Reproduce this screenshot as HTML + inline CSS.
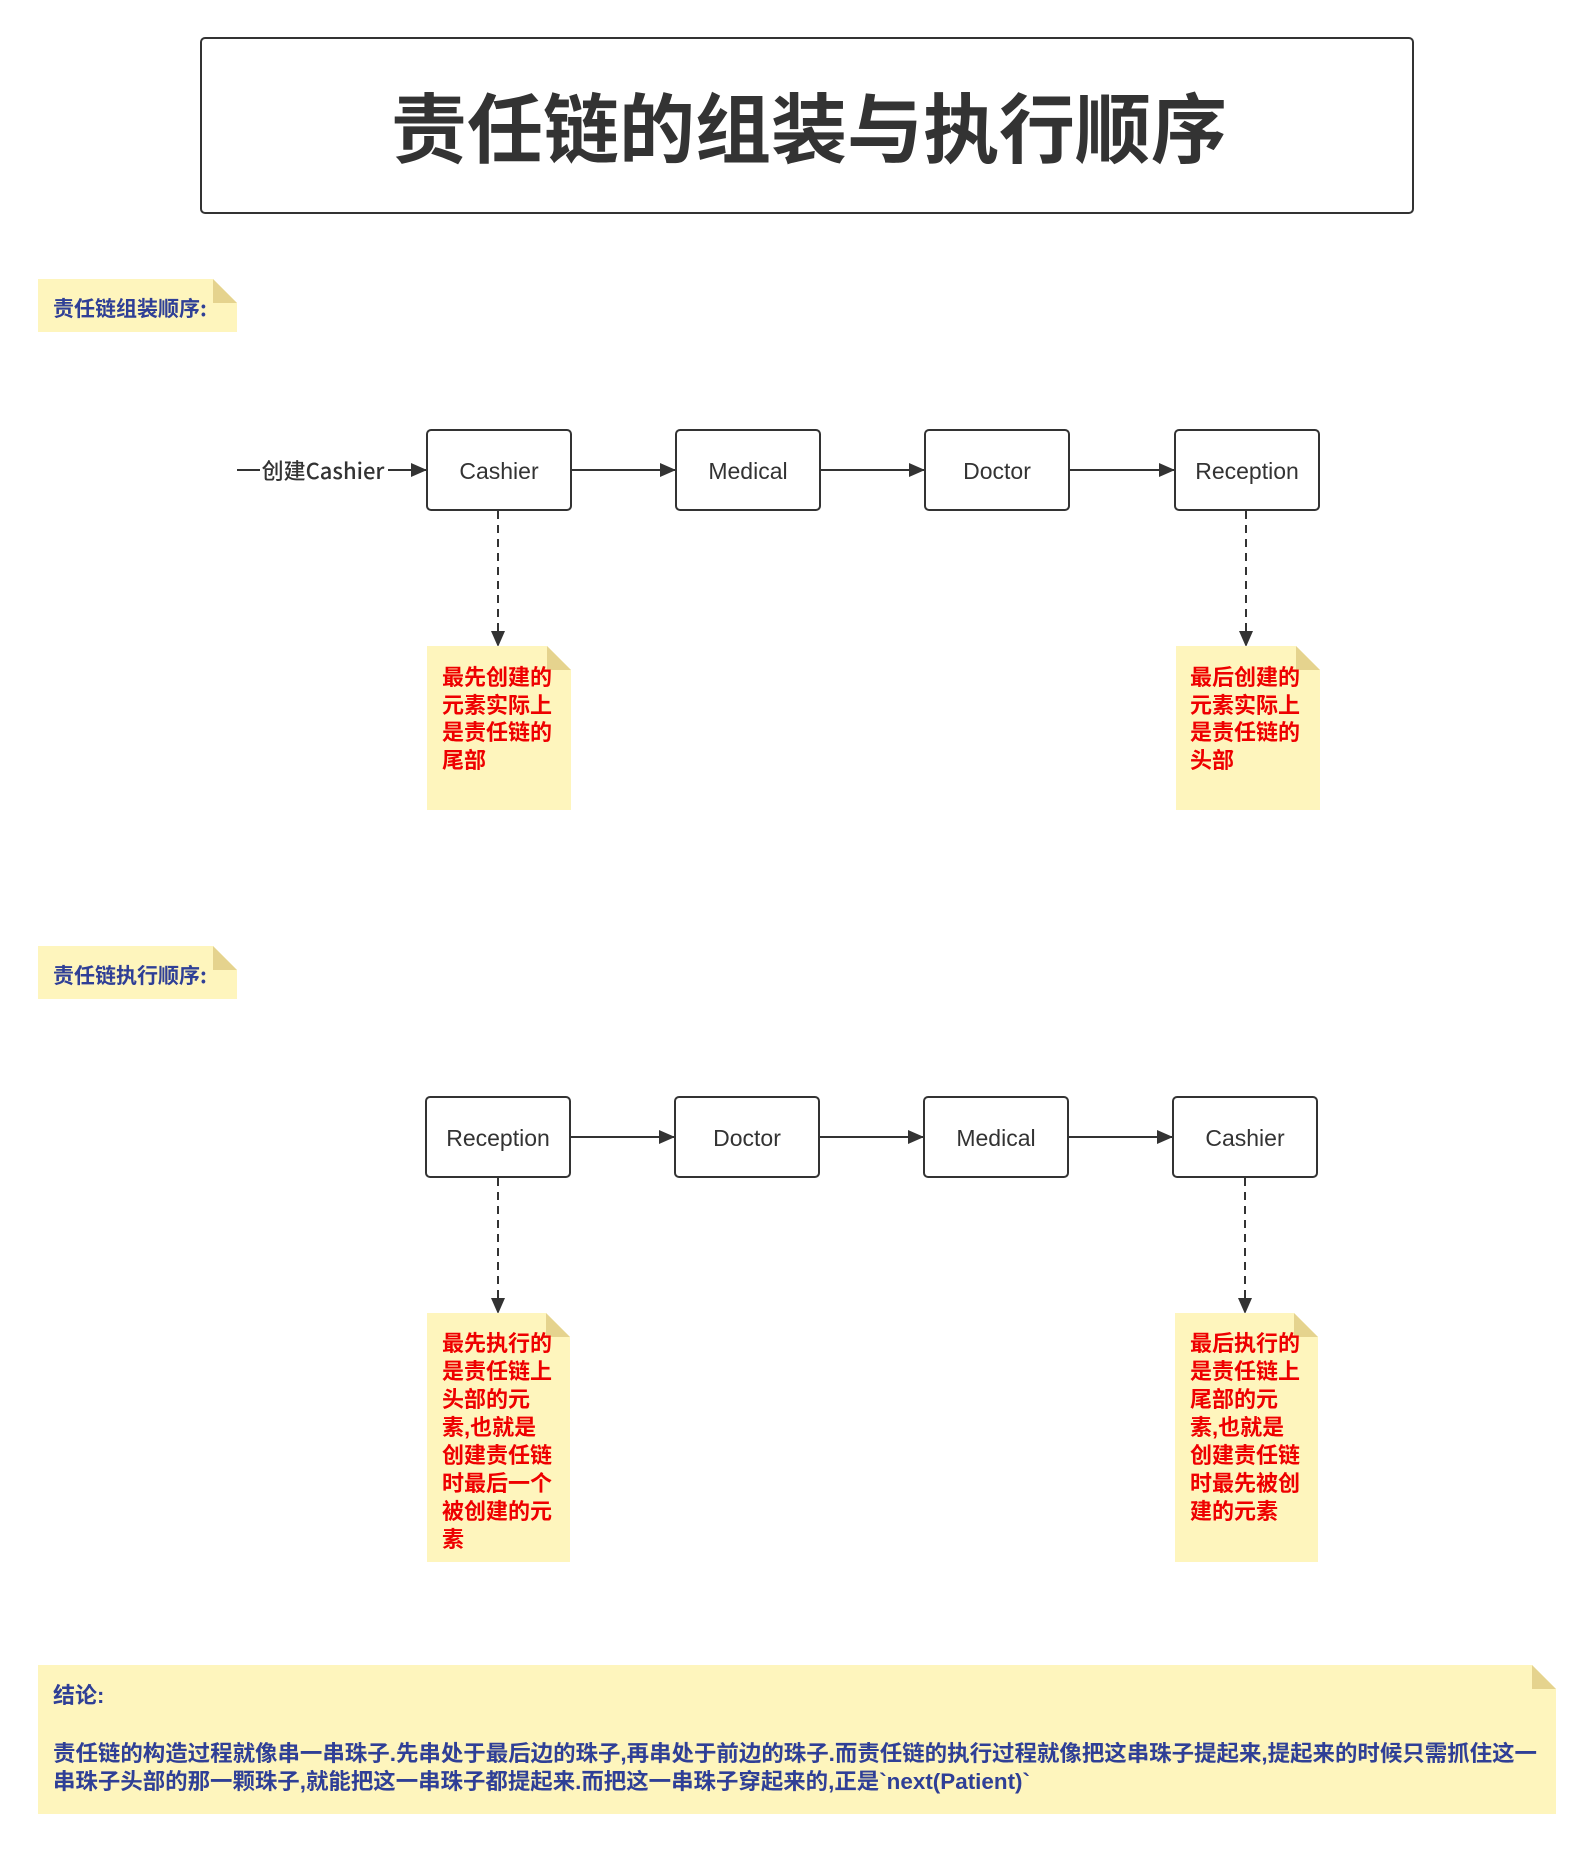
<!DOCTYPE html>
<html><head><meta charset="utf-8"><style>
html,body{margin:0;padding:0;background:#fff;}
svg{display:block;}
text{font-family:"Liberation Sans","Noto Sans CJK SC",sans-serif;}
.cj{font-family:"Noto Sans CJK SC",sans-serif;}
</style></head><body>
<svg width="1594" height="1852" viewBox="0 0 1594 1852" xmlns="http://www.w3.org/2000/svg">
<defs>
<marker id="ar" markerWidth="16" markerHeight="14" refX="15" refY="7" orient="auto" markerUnits="userSpaceOnUse">
<path d="M0,0 L16,7 L0,14 Z" fill="#333"/>
</marker>
</defs>
<rect width="1594" height="1852" fill="#fff"/>
<rect x="201" y="38" width="1212" height="175" rx="4" fill="#fff" stroke="#333" stroke-width="2"/>
<text class="cj" x="809" y="157" text-anchor="middle" font-size="76" font-weight="bold" fill="#333">责任链的组装与执行顺序</text>

<g>
<path d="M38,279 H213 L237,303 V332 H38 Z" fill="#fef5bd"/>
<path d="M213,279 L237,303 H213 Z" fill="#e5d38e"/>
<text class="cj" x="53" y="316" font-size="21" font-weight="bold" fill="#2f3f96">责任链组装顺序:</text>
</g>
<g>
<path d="M38,946 H213 L237,970 V999 H38 Z" fill="#fef5bd"/>
<path d="M213,946 L237,970 H213 Z" fill="#e5d38e"/>
<text class="cj" x="53" y="983" font-size="21" font-weight="bold" fill="#2f3f96">责任链执行顺序:</text>
</g>

<g stroke="#333" stroke-width="2" fill="none">
<line x1="237" y1="470" x2="426" y2="470" marker-end="url(#ar)"/>
<line x1="571" y1="470" x2="675" y2="470" marker-end="url(#ar)"/>
<line x1="820" y1="470" x2="924" y2="470" marker-end="url(#ar)"/>
<line x1="1069" y1="470" x2="1174" y2="470" marker-end="url(#ar)"/>
<line x1="498" y1="511" x2="498" y2="646" stroke-dasharray="8,6" marker-end="url(#ar)"/>
<line x1="1246" y1="511" x2="1246" y2="646" stroke-dasharray="8,6" marker-end="url(#ar)"/>
</g>
<rect x="260" y="456" width="128" height="28" fill="#fff"/>
<text class="cj" x="323" y="479" text-anchor="middle" font-size="22" font-weight="500" fill="#333">创建Cashier</text>
<g fill="#fff" stroke="#333" stroke-width="2">
<rect x="427" y="430" width="144" height="80" rx="4"/>
<rect x="676" y="430" width="144" height="80" rx="4"/>
<rect x="925" y="430" width="144" height="80" rx="4"/>
<rect x="1175" y="430" width="144" height="80" rx="4"/>
</g>
<g class="cj" font-size="23" font-weight="500" fill="#333" text-anchor="middle">
<text x="499" y="479">Cashier</text>
<text x="748" y="479">Medical</text>
<text x="997" y="479">Doctor</text>
<text x="1247" y="479">Reception</text>
</g>

<path d="M427,646 H547 L571,670 V810 H427 Z" fill="#fef5bd"/>
<path d="M547,646 L571,670 H547 Z" fill="#e5d38e"/>
<path d="M1176,646 H1296 L1320,670 V810 H1176 Z" fill="#fef5bd"/>
<path d="M1296,646 L1320,670 H1296 Z" fill="#e5d38e"/>
<g class="cj" font-size="22" font-weight="bold" fill="#ee0000">
<text x="442" y="685">最先创建的</text>
<text x="442" y="713">元素实际上</text>
<text x="442" y="740">是责任链的</text>
<text x="442" y="768">尾部</text>
<text x="1190" y="685">最后创建的</text>
<text x="1190" y="713">元素实际上</text>
<text x="1190" y="740">是责任链的</text>
<text x="1190" y="768">头部</text>
</g>

<g stroke="#333" stroke-width="2" fill="none">
<line x1="570" y1="1137" x2="674" y2="1137" marker-end="url(#ar)"/>
<line x1="819" y1="1137" x2="923" y2="1137" marker-end="url(#ar)"/>
<line x1="1068" y1="1137" x2="1172" y2="1137" marker-end="url(#ar)"/>
<line x1="498" y1="1178" x2="498" y2="1313" stroke-dasharray="8,6" marker-end="url(#ar)"/>
<line x1="1245" y1="1178" x2="1245" y2="1313" stroke-dasharray="8,6" marker-end="url(#ar)"/>
</g>
<g fill="#fff" stroke="#333" stroke-width="2">
<rect x="426" y="1097" width="144" height="80" rx="4"/>
<rect x="675" y="1097" width="144" height="80" rx="4"/>
<rect x="924" y="1097" width="144" height="80" rx="4"/>
<rect x="1173" y="1097" width="144" height="80" rx="4"/>
</g>
<g class="cj" font-size="23" font-weight="500" fill="#333" text-anchor="middle">
<text x="498" y="1146">Reception</text>
<text x="747" y="1146">Doctor</text>
<text x="996" y="1146">Medical</text>
<text x="1245" y="1146">Cashier</text>
</g>

<path d="M427,1313 H546 L570,1337 V1562 H427 Z" fill="#fef5bd"/>
<path d="M546,1313 L570,1337 H546 Z" fill="#e5d38e"/>
<path d="M1175,1313 H1294 L1318,1337 V1562 H1175 Z" fill="#fef5bd"/>
<path d="M1294,1313 L1318,1337 H1294 Z" fill="#e5d38e"/>
<g class="cj" font-size="22" font-weight="bold" fill="#ee0000">
<text x="442" y="1351">最先执行的</text>
<text x="442" y="1379">是责任链上</text>
<text x="442" y="1407">头部的元</text>
<text x="442" y="1435">素,也就是</text>
<text x="442" y="1463">创建责任链</text>
<text x="442" y="1491">时最后一个</text>
<text x="442" y="1519">被创建的元</text>
<text x="442" y="1547">素</text>
<text x="1190" y="1351">最后执行的</text>
<text x="1190" y="1379">是责任链上</text>
<text x="1190" y="1407">尾部的元</text>
<text x="1190" y="1435">素,也就是</text>
<text x="1190" y="1463">创建责任链</text>
<text x="1190" y="1491">时最先被创</text>
<text x="1190" y="1519">建的元素</text>
</g>

<path d="M38,1665 H1532 L1556,1689 V1814 H38 Z" fill="#fef5bd"/>
<path d="M1532,1665 L1556,1689 H1532 Z" fill="#e5d38e"/>
<g class="cj" font-size="22" font-weight="bold" fill="#2f3f96">
<text x="53" y="1703">结论:</text>
<text x="53" y="1761" textLength="1484" lengthAdjust="spacingAndGlyphs">责任链的构造过程就像串一串珠子.先串处于最后边的珠子,再串处于前边的珠子.而责任链的执行过程就像把这串珠子提起来,提起来的时候只需抓住这一</text>
<text x="53" y="1789" textLength="977" lengthAdjust="spacingAndGlyphs">串珠子头部的那一颗珠子,就能把这一串珠子都提起来.而把这一串珠子穿起来的,正是`next(Patient)`</text>
</g>
</svg>
</body></html>
